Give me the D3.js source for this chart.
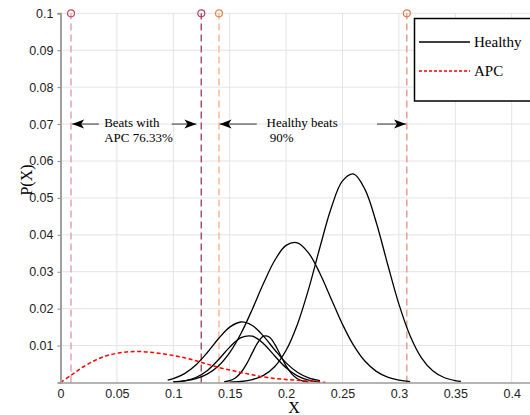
<!DOCTYPE html>
<html>
<head>
<meta charset="utf-8">
<script src="https://cdn.jsdelivr.net/npm/d3@7"></script>
<style>
  body { margin: 0; background: #fff; }
  svg { display: block; font-family: "Liberation Serif", "Times New Roman", serif; }
</style>
</head>
<body>
<div id="chart"></div>
<script>
// healthy beat distributions, [x, P(x)]
const healthyA = [[0.15,0.0001],[0.16,0.00027],[0.17,0.00077],[0.18,0.00193],[0.19,0.00434],[0.20,0.00873],
  [0.21,0.01573],[0.22,0.02537],[0.23,0.03662],[0.24,0.04727],[0.25,0.05462],[0.26,0.05647],[0.27,0.05225],
  [0.28,0.04326],[0.29,0.03204],[0.30,0.02124],[0.31,0.01261],[0.32,0.00669],[0.33,0.00318],[0.34,0.00135],
  [0.35,0.00051],[0.355,0.0003]];
const healthyB = [[0.10,0.00016],[0.11,0.00043],[0.12,0.00103],[0.13,0.00226],[0.14,0.00448],[0.15,0.00809],
  [0.16,0.01327],[0.17,0.0198],[0.18,0.02686],[0.19,0.03311],[0.20,0.03713],[0.21,0.03784],[0.22,0.03506],
  [0.23,0.02954],[0.24,0.02263],[0.25,0.01575],[0.26,0.00998],[0.27,0.00574],[0.28,0.00301],[0.29,0.00143],
  [0.30,0.00062],[0.31,0.00024]];
const healthyC = [[0.095,0.00065],[0.10,0.00105],[0.11,0.0024],[0.12,0.00473],[0.13,0.00806],[0.14,0.01184],
  [0.15,0.015],[0.16,0.01639],[0.17,0.01545],[0.18,0.01256],[0.19,0.0088],[0.20,0.00532],[0.21,0.00278],
  [0.22,0.00125],[0.23,0.00049]];
const healthyD = [[0.10,0.00013],[0.11,0.00047],[0.12,0.00136],[0.13,0.00321],[0.14,0.00615],[0.15,0.00959],
  [0.16,0.01216],[0.17,0.01254],[0.18,0.01052],[0.19,0.00718],[0.20,0.00399],[0.21,0.0018],[0.22,0.00066],
  [0.23,0.0002]];
const healthyE = [[0.145,0.00016],[0.15,0.00048],[0.155,0.00123],[0.16,0.0027],[0.165,0.00504],[0.17,0.00801],
  [0.175,0.01085],[0.18,0.01254],[0.185,0.01234],[0.19,0.01035],[0.195,0.00739],[0.20,0.0045],[0.205,0.00234],
  [0.21,0.00103],[0.215,0.00039],[0.22,0.00012]];
const healthyCurves = [healthyA, healthyB, healthyC, healthyD, healthyE];

// APC beat distribution
const apcCurve = [[0,0],[0.01,0.0021],[0.02,0.0042],[0.03,0.0059],[0.04,0.0072],[0.05,0.0079],[0.06,0.0083],
  [0.07,0.0084],[0.08,0.0082],[0.09,0.0078],[0.10,0.0073],[0.11,0.0067],[0.12,0.0059],[0.13,0.005],
  [0.14,0.0041],[0.15,0.0034],[0.16,0.0027],[0.17,0.0021],[0.18,0.0015],[0.19,0.0011],[0.20,0.0008],
  [0.21,0.0006],[0.22,0.0004],[0.235,0]];

// threshold markers (dashed verticals with a circle on top)
const thresholdX = [0.0093, 0.1248, 0.1405, 0.307];
const thresholdTop = 0.1;

const xTicks = [0, 0.05, 0.1, 0.15, 0.2, 0.25, 0.3, 0.35, 0.4];
const yTicks = [0.01, 0.02, 0.03, 0.04, 0.05, 0.06, 0.07, 0.08, 0.09, 0.1];
const legendLabels = ["Healthy", "APC"];
const noteLabels = [["Beats with", "APC 76.33%"], ["Healthy beats", " 90%"]];

const width = 530, height = 415;
const margin = {top: 13.3, left: 60.5, bottom: 32.5};
const plotW = 0.42 * 1128;

const x = d3.scaleLinear().domain([0, 0.42]).range([margin.left, margin.left + plotW]);
const y = d3.scaleLinear().domain([0, 0.1]).range([height - margin.bottom, margin.top]);

const svg = d3.select("#chart").append("svg")
    .attr("width", width)
    .attr("height", height);

svg.append("defs").append("clipPath").attr("id", "plot")
    .append("rect")
    .attr("x", x(0)).attr("y", y(0.1) - 8)
    .attr("width", plotW).attr("height", y(0) - y(0.1) + 8);

svg.append("defs").append("marker")
    .attr("id", "head")
    .attr("viewBox", "0 -5 12 10")
    .attr("refX", 12).attr("refY", 0)
    .attr("markerWidth", 12).attr("markerHeight", 10)
    .attr("markerUnits", "userSpaceOnUse")
    .attr("orient", "auto")
    .append("path")
    .attr("d", "M0,-4.5L12,0L0,4.5L3,0Z")
    .attr("fill", "#000");

// grid
const grid = svg.append("g");
grid.selectAll(".gx").data(xTicks).enter().append("line")
    .attr("x1", d => x(d)).attr("x2", d => x(d))
    .attr("y1", y(0)).attr("y2", y(0.1))
    .attr("stroke", "#e3e3e3").attr("stroke-width", 1);
grid.selectAll(".gy").data(yTicks).enter().append("line")
    .attr("x1", x(0)).attr("x2", x(0.42))
    .attr("y1", d => y(d)).attr("y2", d => y(d))
    .attr("stroke", "#e3e3e3").attr("stroke-width", 1);

// threshold lines
const lineColors = ["#e3a3b4", "#a35273", "#f6b89a", "#e2a392"];
const dotColors = ["#c9465f", "#b4405f", "#ea7f4d", "#e27a4c"];
svg.append("g").selectAll("line").data(thresholdX).enter().append("line")
    .attr("x1", d => x(d)).attr("x2", d => x(d))
    .attr("y1", y(0)).attr("y2", y(thresholdTop))
    .attr("stroke", (d, i) => lineColors[i])
    .attr("stroke-width", 1.5)
    .attr("stroke-dasharray", "7,4");
svg.append("g").selectAll("circle").data(thresholdX).enter().append("circle")
    .attr("cx", d => x(d)).attr("cy", y(thresholdTop))
    .attr("r", 3.5)
    .attr("fill", "none")
    .attr("stroke", (d, i) => dotColors[i])
    .attr("stroke-width", 1.2);

// curves
const line = d3.line()
    .x(d => x(d[0]))
    .y(d => y(d[1]))
    .curve(d3.curveCatmullRom.alpha(0.5));

const curves = svg.append("g").attr("clip-path", "url(#plot)");
curves.selectAll(".healthy").data(healthyCurves).enter().append("path")
    .attr("d", line)
    .attr("fill", "none")
    .attr("stroke", "#000")
    .attr("stroke-width", 1.3);
curves.append("path")
    .datum(apcCurve)
    .attr("d", line)
    .attr("fill", "none")
    .attr("stroke", "#ff0000")
    .attr("stroke-width", 1.5)
    .attr("stroke-dasharray", "4,2.5");

// axes
const xAxis = svg.append("g")
    .attr("transform", `translate(0,${y(0)})`)
    .call(d3.axisBottom(x).tickValues(xTicks).tickSize(0).tickPadding(7).tickFormat(d3.format("~g")));
xAxis.select(".domain").attr("stroke", "#6a6a6a").attr("stroke-width", 1.2);
xAxis.selectAll("text").style("font-size", "12.5px").attr("fill", "#222");

const yAxis = svg.append("g")
    .attr("transform", `translate(${x(0)},0)`)
    .call(d3.axisLeft(y).tickValues(yTicks).tickSize(3).tickPadding(4).tickFormat(d3.format("~g")));
yAxis.select(".domain").attr("stroke", "#a0a0a0").attr("stroke-width", 2);
yAxis.selectAll(".tick line").attr("stroke", "#888");
yAxis.selectAll("text").style("font-size", "12.5px").attr("fill", "#222");

svg.append("text")
    .attr("x", 294).attr("y", 413)
    .attr("text-anchor", "middle")
    .style("font-size", "16px")
    .text("X");
svg.append("text")
    .attr("transform", "translate(32,180) rotate(-90)")
    .attr("text-anchor", "middle")
    .style("font-size", "16px")
    .text("P(X)");

// arrows and notes at P = 0.07
const arrowY = y(0.07);
const arrows = [[0.034, 0.0103], [0.0986, 0.1205], [0.174, 0.1410], [0.2806, 0.3063]];
svg.append("g").selectAll("line").data(arrows).enter().append("line")
    .attr("x1", d => x(d[0])).attr("x2", d => x(d[1]))
    .attr("y1", arrowY).attr("y2", arrowY)
    .attr("stroke", "#333").attr("stroke-width", 1)
    .attr("marker-end", "url(#head)");

const notes = svg.append("g").style("font-size", "13px");
const noteX = [0.0387, 0.1827];
noteLabels.forEach((lines, i) => {
    lines.forEach((t, j) => {
        notes.append("text")
            .attr("x", x(noteX[i]))
            .attr("y", arrowY + 3 + j * 14.5)
            .attr("xml:space", "preserve")
            .style("white-space", "pre")
            .text(t);
    });
});

// legend
const legend = svg.append("g");
legend.append("rect")
    .attr("x", 414.5).attr("y", 18.5)
    .attr("width", 140).attr("height", 82.5)
    .attr("fill", "#fff").attr("stroke", "#000").attr("stroke-width", 1.5);
legendLabels.forEach((lab, i) => {
    const ly = 42 + i * 29;
    legend.append("line")
        .attr("x1", 419).attr("x2", 470)
        .attr("y1", ly).attr("y2", ly)
        .attr("stroke", i === 0 ? "#000" : "#ff0000")
        .attr("stroke-width", 1.3)
        .attr("stroke-dasharray", i === 0 ? null : "3,2");
    legend.append("text")
        .attr("x", 474).attr("y", ly + 5)
        .style("font-size", "15px")
        .text(lab);
});
</script>
</body>
</html>
